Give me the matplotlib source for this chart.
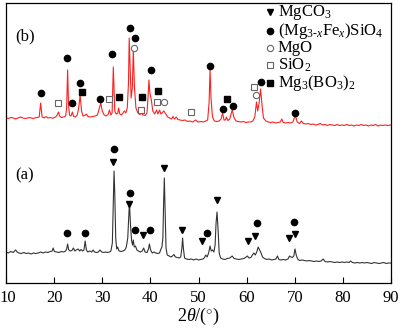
import matplotlib
matplotlib.use("Agg")
import matplotlib.pyplot as plt
import matplotlib.transforms as mtransforms

# ---------------- data ----------------
# pattern (b): red trace (2theta, intensity in plot units)
b_pts = [
    (10.0,165),(10.5,164.5),(11,165.5),(11.5,165),(12,164),(12.5,165),(13,166),(13.5,165),(14,164.5),
    (14.5,165),(15,165.5),(15.5,164.5),(16,165),(16.5,165.5),(16.9,166),(17.2,180),(17.5,166),(17.9,165),
    (18.3,166.5),(18.7,165),(19.2,165.5),(19.7,164.8),(20.3,166),(20.65,168),(20.9,171),(21.15,167),
    (21.5,165.5),(22.0,166),(22.4,167),(22.6,175),(22.8,213),(23.0,178),(23.2,168),(23.5,167),(23.8,171),
    (24.05,166.5),(24.4,166),(24.8,168),(25.1,175),(25.4,188),(25.7,172),(26.0,167),(26.4,167.5),(26.7,169),
    (27.0,166.5),(27.5,166),(28.0,166.5),(28.5,167),(29.0,168),(29.4,175),(29.7,180),(30.0,172),(30.4,168),
    (30.8,167),(31.2,168.5),(31.5,173),(31.8,168),(32.05,170),(32.3,216),(32.6,172),(32.9,169),(33.2,169.5),
    (33.4,175),(33.65,169),(34.0,168),(34.3,170),(34.6,172),(34.9,170),(35.2,175),(35.45,200),(35.6,245),
    (35.8,215),(36.0,185),(36.25,195),(36.45,233),(36.7,195),(37.0,175),(37.4,170),(37.8,168.5),(38.2,170),
    (38.4,168),(38.6,168),(38.9,167.5),(39.3,170),(39.5,185),(39.7,203),(39.9,190),(40.2,183),(40.5,172),
    (40.9,169),(41.3,173),(41.55,169),(41.9,173),(42.2,169),(42.6,171),(42.8,172),(43.2,169),(43.6,166),
    (44.0,165),(44.4,164),(44.7,166.5),(45.0,164),(45.4,166),(45.7,163.5),(46.2,163),(46.7,162.5),(47.2,163),
    (47.7,161.5),(48.2,162),(48.8,161),(49.4,163),(49.9,161),(50.5,161.5),(51.0,161),(51.5,162),(51.9,163),
    (52.2,180),(52.4,213),(52.6,185),(52.9,166),(53.3,162),(53.8,161.5),(54.3,162),(54.7,164),(55.0,170),
    (55.3,163),(55.6,163),(55.8,166),(56.1,162.5),(56.5,164),(57.0,173),(57.4,165),(57.8,162),(58.3,161.5),
    (58.8,161),(59.3,161.5),(59.8,160.5),(60.3,161),(60.8,161),(61.3,162),(61.7,166),(62.05,181),(62.3,172),
    (62.6,180),(62.9,194),(63.2,178),(63.5,165),(64.0,162),(64.5,161),(65.0,160.5),(65.5,161),(66.0,160),
    (66.5,160.5),(67.0,161),(67.3,164),(67.6,160.5),(68.1,160),(68.6,160.5),(69.1,160),(69.6,161),(70.0,166),
    (70.2,166.5),(70.5,161),(71.0,159.5),(71.4,162),(71.8,159.5),(72.3,159),(72.8,159.5),(73.3,158.5),
    (73.8,159),(74.3,158),(74.8,158.5),(75.3,159.5),(75.8,158),(76.3,158.5),(76.8,157.5),(77.3,158.5),
    (77.8,158),(78.3,157.5),(78.8,158.5),(79.3,157.5),(79.8,158),(80.3,157.5),(80.8,158.5),(81.3,157.5),
    (81.8,158),(82.3,157),(82.8,158),(83.3,157.5),(83.8,158.5),(84.3,157.5),(84.8,158),(85.3,157),(85.8,158),
    (86.3,157.5),(86.8,158.5),(87.3,157),(87.8,158),(88.3,157.5),(88.8,158),(89.3,157.5),(90,158),
]
# pattern (a): black trace
a_pts = [
    (10.0,31),(10.5,30),(11,31.5),(11.5,30.5),(12.0,33),(12.3,31),(12.7,30),(13.2,29.5),(13.7,30.5),
    (14.2,29.5),(14.7,30),(15.2,29),(15.7,30),(16.2,29.5),(16.7,30),(17.2,31),(17.7,30),(18.2,31),(18.7,30.5),
    (19.2,31.5),(19.6,32),(19.8,35),(20.05,31.5),(20.5,31),(21.0,30.5),(21.5,31.5),(22.0,31),(22.4,32),
    (22.6,34),(22.8,39),(23.0,33.5),(23.3,32),(23.7,32.5),(24.0,35),(24.3,32),(24.6,33),(25.0,34),(25.3,32),
    (25.6,33.5),(25.9,32),(26.2,33),(26.45,42),(26.7,33),(27.0,31),(27.4,32),(27.8,31),(28.1,33),(28.4,31),
    (28.8,30.5),(29.2,31),(29.5,33),(29.9,31),(30.3,30.5),(30.7,31),(31.1,30.5),(31.5,31),(31.8,32),(32.1,40),
    (32.3,80),(32.45,112),(32.6,90),(32.8,45),(33.0,34),(33.2,36),(33.5,32),(33.9,31.5),(34.3,32),(34.7,33),
    (35.0,36),(35.3,45),(35.5,65),(35.65,81),(35.85,60),(36.1,42),(36.3,38),(36.45,43),(36.65,36),(36.9,37),
    (37.2,33),(37.5,32),(37.9,31),(38.3,32),(38.6,35),(38.9,31),(39.3,30.5),(39.6,34),(39.8,39),(40.05,33),
    (40.4,30),(40.8,31),(41.1,30),(41.5,29.5),(41.9,30),(42.2,34),(42.4,36),(42.6,45),(42.75,80),(42.9,105),
    (43.05,75),(43.25,35),(43.5,28),(43.9,27),(44.3,26),(44.6,27),(44.9,28.5),(45.2,26),(45.6,25.5),(46.0,25),
    (46.3,26),(46.55,35),(46.7,45),(46.85,35),(47.1,25),(47.5,24),(48.0,23.5),(48.5,24),(49.0,23),(49.5,24),
    (50.0,23),(50.5,23.5),(50.9,24),(51.2,25),(51.5,28),(51.8,26),(52.1,30),(52.4,37),(52.65,32),(52.9,33),
    (53.2,31),(53.45,38),(53.65,60),(53.85,71),(54.05,55),(54.3,30),(54.6,25),(55.0,24),(55.5,23.5),(56.0,24.5),
    (56.5,25),(57.0,27),(57.4,24.5),(57.9,24),(58.4,23.5),(58.9,24),(59.4,24.5),(59.8,25.5),(60.15,27),
    (60.5,25),(60.9,25.5),(61.2,28),(61.5,30),(61.8,28),(62.1,31),(62.4,36),(62.7,33),(63.0,30),(63.3,26),
    (63.7,24.5),(64.2,23.5),(64.7,24),(65.2,23),(65.7,23.5),(66.1,24),(66.4,27),(66.7,23.5),(67.1,23),
    (67.6,23.5),(68.1,23),(68.6,24),(68.9,27),(69.2,26),(69.5,25.5),(69.8,27),(70.05,34),(70.3,28),(70.6,24),
    (71.0,22.5),(71.5,23),(72.0,22.5),(72.5,22),(73.0,22.5),(73.5,22),(74.0,21.5),(74.5,22),(75.0,21.5),
    (75.5,22),(75.9,24),(76.3,21.5),(76.8,21),(77.3,21.5),(77.8,21),(78.3,20.5),(78.8,21),(79.3,20.5),(79.8,21),
    (80.3,20.5),(80.8,21),(81.3,20.5),(81.6,22),(82.0,20.5),(82.5,20),(83.0,20.5),(83.5,20),(84.0,20.5),
    (84.5,20),(85.0,20.5),(85.5,20),(86.0,19.5),(86.5,20.5),(87.0,20),(87.5,19.5),(88.0,20),(88.5,20.5),
    (89.0,19.5),(89.5,20),(90,20),
]

# phase markers (2theta, height)
b_silicate = [(17.27,190),(22.74,225),(23.78,180),(25.38,200),(29.47,184),(32.09,229),(35.83,255),
              (36.74,245),(40.07,213),(52.32,217),(55.16,174),(57.1,177),(62.92,201),(70.12,170)]
b_mgo = [(36.66,235),(42.9,181),(61.88,188)]
b_sio2 = [(20.8,180),(31.34,184),(37.99,173),(41.38,181),(48.44,171),(61.53,196)]
b_borate = [(25.79,191),(33.42,186),(38.26,186),(41.58,192),(55.86,184)]

a_mgco3 = [(32.3,121),(35.63,79),(38.4,48),(42.9,115),(46.5,53),(50.8,42),(53.85,83),
           (60.22,42),(61.74,47),(68.8,45),(70.12,49)]
a_silicate = [(32.44,134),(35.77,90),(36.8,53),(39.99,53),(22.68,50),(26.48,50),
              (51.83,50),(62.15,60),(69.84,61)]

legend_labels = ["MgCO$_3$", "(Mg$_{3\\text{-}x}$Fe$_x$)SiO$_4$", "MgO", "SiO$_2$",
                 "Mg$_3$(BO$_3$)$_2$"]
xticks = [10, 20, 30, 40, 50, 60, 70, 80, 90]

# ---------------- style ----------------
plt.rcParams['font.family'] = ['Liberation Serif', 'DejaVu Serif']
plt.rcParams['mathtext.fontset'] = 'custom'
plt.rcParams['mathtext.rm'] = 'Liberation Serif'
plt.rcParams['mathtext.it'] = 'Liberation Serif:italic'

fig = plt.figure(figsize=(4.0, 3.3), dpi=100)
ax = fig.add_axes([6/400, 1-283/330, 385/400, 280/330])

def xy(pts):
    return [p[0] for p in pts], [p[1] for p in pts]

ax.plot(*xy(b_pts), color='#ff2020', lw=0.8)
ax.plot(*xy(a_pts), color='#333333', lw=0.8)

ms = 4.5
ax.plot(*xy(b_silicate), 'o', color='black', ms=ms, ls='none')
ax.plot(*xy(b_mgo), 'o', mfc='white', mec='#666666', mew=0.8, ms=ms, ls='none')
ax.plot(*xy(b_sio2), 's', mfc='white', mec='#666666', mew=0.8, ms=ms, ls='none')
ax.plot(*xy(b_borate), 's', color='black', ms=ms, ls='none')
ax.plot(*xy(a_mgco3), 'v', color='black', ms=ms, ls='none')
ax.plot(*xy(a_silicate), 'o', color='black', ms=ms, ls='none')

ax.set_xlim(10, 90)
ax.set_ylim(0, 280)
ax.set_xticks(xticks)
ax.set_xticklabels([str(t) for t in xticks], fontsize=12)
ax.set_yticks([])
ax.tick_params(axis='x', direction='in', length=4, width=0.8, pad=5, top=False)
for s in ax.spines.values():
    s.set_linewidth(0.9)
ax.set_xlabel(r"$2\theta$/($^{\circ}$)", fontsize=13, labelpad=0)

# nudge the first tick label so it is not clipped by the figure edge
first = ax.get_xticklabels()[0]
first.set_transform(first.get_transform() +
                    mtransforms.ScaledTranslation(2/100, 0, fig.dpi_scale_trans))

ax.text(0.025, 280-33, "(b)", fontsize=12, va='center', ha='left',
        transform=ax.get_yaxis_transform())
ax.text(0.025, 280-172, "(a)", fontsize=12, va='center', ha='left',
        transform=ax.get_yaxis_transform())

# legend (manual)
leg_y = [12, 31, 48, 65, 83]
leg_style = [dict(marker='v', color='black'),
             dict(marker='o', color='black'),
             dict(marker='o', mfc='white', mec='#666666', mew=0.8),
             dict(marker='s', mfc='white', mec='#666666', mew=0.8),
             dict(marker='s', color='black')]
for lab, yy, st in zip(legend_labels, leg_y, leg_style):
    fx, fy = 270/400, 1 - yy/330
    fig.lines.append(plt.Line2D([fx], [fy], transform=fig.transFigure, ls='none', ms=ms, **st))
    fig.text(278/400, fy, lab, fontsize=12, va='center', ha='left')

fig.savefig('out.png', dpi=100)
